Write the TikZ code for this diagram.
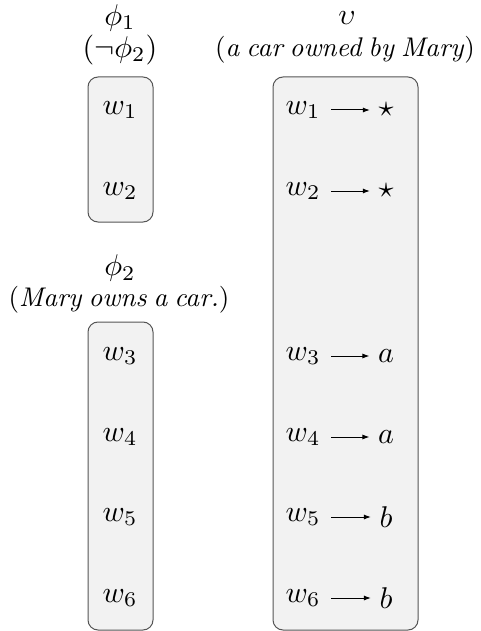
\documentclass[tikz,border=0pt]{standalone}
\usetikzlibrary{arrows.meta}
\definecolor{boxfill}{HTML}{F2F2F2}
\definecolor{boxline}{HTML}{555555}
\newcommand\mytightspace{\spaceskip=0.26em plus 0.05em\relax}
\tikzset{
  lbl/.style={inner sep=0pt, font={\fontsize{10}{12}\selectfont\mytightspace}, scale=2.7, transform shape},
  world/.style={inner sep=0pt, font={\fontsize{10}{12}\selectfont}, scale=3.0, transform shape},
  setbox/.style={draw=boxline, fill=boxfill, line width=1pt, rounded corners=10pt},
  mapto/.style={-{Latex[length=7pt,width=5pt]}, line width=1pt, shorten >=8pt, shorten <=10pt}
}
\begin{document}
\begin{tikzpicture}[x=1pt,y=-1pt]
\useasboundingbox (0,0) rectangle (481,631);
% boxes
\draw[setbox] (88,77) rectangle (153,222);
\draw[setbox] (88,322) rectangle (153,630);
\draw[setbox] (273,77) rectangle (418,630);
% headers
\node[world] (h1) at (120,18) {$\phi_1$};
\node[world] (h1b) at (120,50) {$(\neg\phi_2)$};
\node[world] (h2) at (120,268) {$\phi_2$};
\node[lbl] (h2b) at (119,300) {(\textit{Mary owns a car.})};
\node[world] (h3) at (347,18) {$\upsilon$};
\node[lbl] (h3b) at (345,50) {(\textit{a car owned by Mary})};
% left worlds
\node[world] (l1) at (120,110) {$w_1$};
\node[world] (l2) at (120,191) {$w_2$};
\node[world] (l3) at (120,356) {$w_3$};
\node[world] (l4) at (120,437) {$w_4$};
\node[world] (l5) at (120,517) {$w_5$};
\node[world] (l6) at (120,598) {$w_6$};
% right worlds
\foreach \i/\y/\v in {1/110/\star,2/191/\star,3/356/a,4/437/a,5/517/b,6/598/b}{
  \node[world] (r\i) at (303,\y) {$w_\i$};
  \node[world] (t\i) at (386,\y) {$\v$};
}
\foreach \i in {1,...,6}{
  \draw[mapto] (r\i) -- (t\i);
}
\end{tikzpicture}
\end{document}
